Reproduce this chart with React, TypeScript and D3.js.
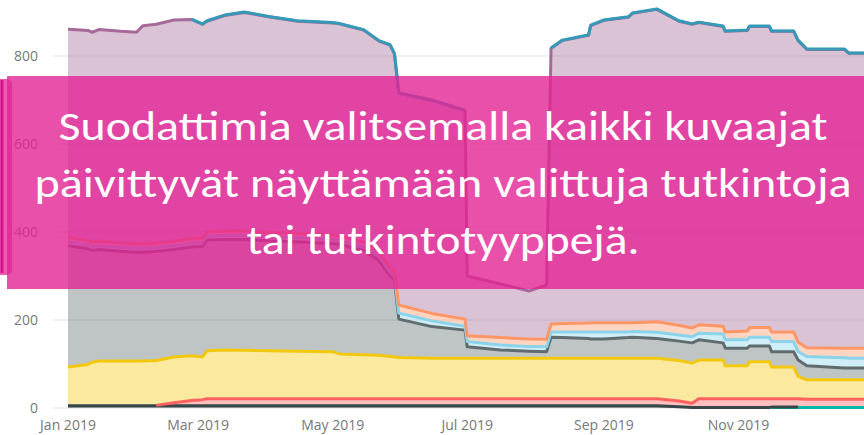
import { useEffect, useRef } from "react";
import * as d3 from "d3";

// dates of the readings (day resolution)
const dates = [
  "2019-01-01", "2019-01-10", "2019-01-12", "2019-01-15", "2019-01-25",
  "2019-02-01", "2019-02-04", "2019-02-10", "2019-02-18", "2019-02-26",
  "2019-03-03", "2019-03-05", "2019-03-13", "2019-03-22", "2019-04-02",
  "2019-04-15", "2019-05-01", "2019-05-04", "2019-05-15", "2019-05-22",
  "2019-05-27", "2019-05-29", "2019-05-31", "2019-06-15", "2019-06-30",
  "2019-07-01", "2019-07-16", "2019-07-29", "2019-08-06", "2019-08-08",
  "2019-08-13", "2019-08-25", "2019-08-26", "2019-09-01", "2019-09-12",
  "2019-09-14", "2019-09-25", "2019-10-05", "2019-10-11", "2019-10-14",
  "2019-10-25", "2019-10-26", "2019-11-05", "2019-11-06", "2019-11-15",
  "2019-11-16", "2019-11-26", "2019-11-28", "2019-12-02", "2019-12-19",
  "2019-12-21", "2019-12-31",
];

type V = number | null;
const N = null;

// stacked series, bottom to top
const tealValues: V[] = [
  N, N, N, N, N, N, N, N, N, N, N, N, N, N, N, N, N, N, N, N, N, N, N, N, N,
  N, N, N, N, N, N, N, N, N, N, N, N, N, N, N, N, N, N, N, N,
  1, 1, 1, 1, 1, 1, 1,
];
const slateValues: V[] = [
  5, 5, 5, 5, 5, 5, 5, 5, 5, 5, 5, 5, 5, 5, 5, 5, 5, 5, 5, 5, 5, 5, 5, 5, 5,
  5, 5, 5, 5, 5, 5, 5, 5, 5, 5, 5, 5, 3, 1, 1, 1, 1, 1, 1, 1,
  1, 1, 1, N, N, N, N,
];
const redValues: V[] = [
  N, N, N, N, N, N, N, 1, 7, 12, 14, 16, 16, 16, 16, 16, 16, 16, 16, 16, 16, 16, 16, 16, 16,
  16, 16, 16, 16, 16, 16, 16, 16, 16, 16, 16, 16, 13, 10, 20, 20, 20, 20, 20, 20,
  19, 19, 19, 19, 19, 19, 19,
];
const yellowValues: V[] = [
  88, 94, 99, 102, 102, 102, 102, 102, 104, 102, 97, 109, 111, 110, 109, 108, 107, 102, 100, 99, 96, 95, 94, 92, 92,
  92, 92, 92, 92, 92, 92, 92, 92, 92, 92, 92, 92, 92, 91, 88, 88, 75, 75, 84, 84,
  72, 72, 51, 44, 44, 44, 44,
];
const greyValues: V[] = [
  276, 263, 254, 253, 249, 247, 247, 248, 244, 247, 251, 252, 251, 252, 250, 249, 246, 249, 237, 215, 183, 175, 87, 72, 64,
  26, 19, 16, 15, 48, 47, 45, 44, 44, 47, 48, 45, 44, 46, 46, 39, 40, 40, 36, 36,
  35, 35, 37, 32, 27, 27, 27,
];
const lightBlueValues: V[] = [
  9, 9, 9, 9, 9, 9, 9, 9, 9, 9, 9, 9, 9, 9, 9, 9, 9, 9, 9, 9, 9, 9, 14, 13, 9,
  12, 11, 11, 11, 12, 13, 15, 16, 16, 13, 13, 14, 14, 14, 15, 20, 19, 19, 20, 20,
  23, 23, 19, 21, 23, 22, 22,
];
const orangeValues: V[] = [
  10, 10, 10, 10, 10, 10, 10, 10, 10, 10, 10, 10, 10, 10, 10, 10, 10, 10, 10, 10, 10, 10, 18, 17, 16,
  13, 17, 17, 17, 18, 19, 20, 21, 21, 21, 20, 24, 22, 20, 19, 18, 18, 20, 22, 22,
  22, 22, 22, 20, 22, 23, 23,
];
const purpleValues: V[] = [
  473, 477, 477, 481, 481, 481, 496, 497, 503, 498, 486, 478, 490, 497, 490, 482, 482, 482, 482, 480, 506, 495, 481, 484, 474,
  136, 122, 109, 124, 626, 643, 654, 675, 687, 694, 703, 710, 691, 690, 687, 681, 683, 683, 684, 684,
  683, 683, 685, 678, 679, 670, 670,
];
const blueValues: V[] = [
  N, N, N, N, N, N, N, N, N, 1, 1, 1, 1, 1, 1, 1, 1, 1, 1, 1, 1, 1, 1, 1, 1,
  N, N, N, N, 1, 1, 1, 1, 1, 1, 1, 1, 1, 1, 1, 1, 1, 1, 1, 1,
  1, 1, 1, 1, 1, 1, 1,
];

const series = [
  { key: "teal", color: "#01B8AA", values: tealValues },
  { key: "slate", color: "#374649", values: slateValues },
  { key: "red", color: "#FD625E", values: redValues },
  { key: "yellow", color: "#F2C80F", values: yellowValues },
  { key: "grey", color: "#5F6B6D", values: greyValues },
  { key: "lightBlue", color: "#8AD4EB", values: lightBlueValues },
  { key: "orange", color: "#FE9666", values: orangeValues },
  { key: "purple", color: "#A66999", values: purpleValues },
  { key: "blue", color: "#3599B8", values: blueValues },
];

const yTicks = [0, 200, 400, 600, 800];
const xTicks = ["2019-01-01", "2019-03-01", "2019-05-01", "2019-07-01", "2019-09-01", "2019-11-01"];

const bannerLines = [
  "Suodattimia valitsemalla kaikki kuvaajat",
  "päivittyvät näyttämään valittuja tutkintoja",
  "tai tutkintotyyppejä.",
];

const WIDTH = 864;
const HEIGHT = 435;

export default function App() {
  const svgRef = useRef<SVGSVGElement>(null);

  useEffect(() => {
    if (!svgRef.current) return;
    const svg = d3.select(svgRef.current);
    svg.selectAll("*").remove();

    const parse = d3.utcParse("%Y-%m-%d");
    const x = d3
      .scaleUtc()
      .domain([parse("2019-01-01")!, parse("2019-11-01")!])
      .range([68, 738.5]);
    const y = d3.scaleLinear().domain([0, 800]).range([408, 56]);

    const rows = dates.map((d, i) => {
      const row: any = { date: parse(d) };
      series.forEach((s) => (row[s.key] = s.values[i] ?? 0));
      return row;
    });
    const stacked = d3.stack<any>().keys(series.map((s) => s.key))(rows);

    // grid + y labels
    const grid = svg.append("g");
    yTicks.forEach((t) => {
      grid
        .append("line")
        .attr("x1", 53)
        .attr("x2", WIDTH)
        .attr("y1", y(t))
        .attr("y2", y(t))
        .attr("stroke", "#e3e3e3")
        .attr("stroke-width", 1);
      grid
        .append("text")
        .attr("x", 38)
        .attr("y", y(t))
        .attr("dy", "0.35em")
        .attr("text-anchor", "end")
        .attr("fill", "#777")
        .attr("font-family", "'Segoe UI', 'Open Sans', sans-serif")
        .attr("font-size", 14)
        .text(t);
    });

    xTicks.forEach((t) => {
      svg
        .append("text")
        .attr("x", x(parse(t)!))
        .attr("y", 430)
        .attr("text-anchor", "middle")
        .attr("fill", "#777")
        .attr("font-family", "'Segoe UI', 'Open Sans', sans-serif")
        .attr("font-size", 14)
        .text(d3.utcFormat("%b %Y")(parse(t)!));
    });

    const area = d3
      .area<any>()
      .x((d) => x(d.data.date))
      .y0((d) => y(d[0]))
      .y1((d) => y(d[1]));

    stacked.forEach((layer, li) => {
      svg
        .append("path")
        .datum(layer)
        .attr("fill", series[li].color)
        .attr("fill-opacity", 0.4)
        .attr("d", area);
    });

    // series lines on the upper edge of each layer
    stacked.forEach((layer, li) => {
      const vals = series[li].values;
      const line = d3
        .line<any>()
        .defined((_, i) => vals[i] !== null)
        .x((d) => x(d.data.date))
        .y((d) => y(d[1]));
      svg
        .append("path")
        .datum(layer)
        .attr("fill", "none")
        .attr("stroke", series[li].color)
        .attr("stroke-width", 3)
        .attr("stroke-linejoin", "round")
        .attr("d", line);
    });

    // overlay banner
    const pink = "rgb(226,36,149)";
    svg
      .append("rect")
      .attr("x", 7)
      .attr("y", 76)
      .attr("width", WIDTH)
      .attr("height", 213)
      .attr("fill", pink)
      .attr("fill-opacity", 0.8);
    svg
      .append("rect")
      .attr("x", -8)
      .attr("y", 79)
      .attr("width", 20)
      .attr("height", 196)
      .attr("rx", 5)
      .attr("fill", pink)
      .attr("fill-opacity", 0.75);
    svg
      .append("line")
      .attr("x1", 2)
      .attr("x2", 2)
      .attr("y1", 80)
      .attr("y2", 273)
      .attr("stroke", "#d9148c")
      .attr("stroke-width", 3);

    const lengths = [769, 817, 393];
    bannerLines.forEach((t, i) => {
      svg
        .append("text")
        .attr("x", 443)
        .attr("y", 140 + i * 57)
        .attr("text-anchor", "middle")
        .attr("fill", "#fff")
        .attr("font-family", "Calibri, Carlito, Lato, sans-serif")
        .attr("font-size", 41)
        .attr("textLength", lengths[i])
        .attr("lengthAdjust", "spacingAndGlyphs")
        .text(t);
    });
  }, []);

  return (
    <div style={{ position: "absolute", left: 0, top: 0 }}>
      <svg ref={svgRef} width={WIDTH} height={HEIGHT} style={{ display: "block" }} />
    </div>
  );
}
